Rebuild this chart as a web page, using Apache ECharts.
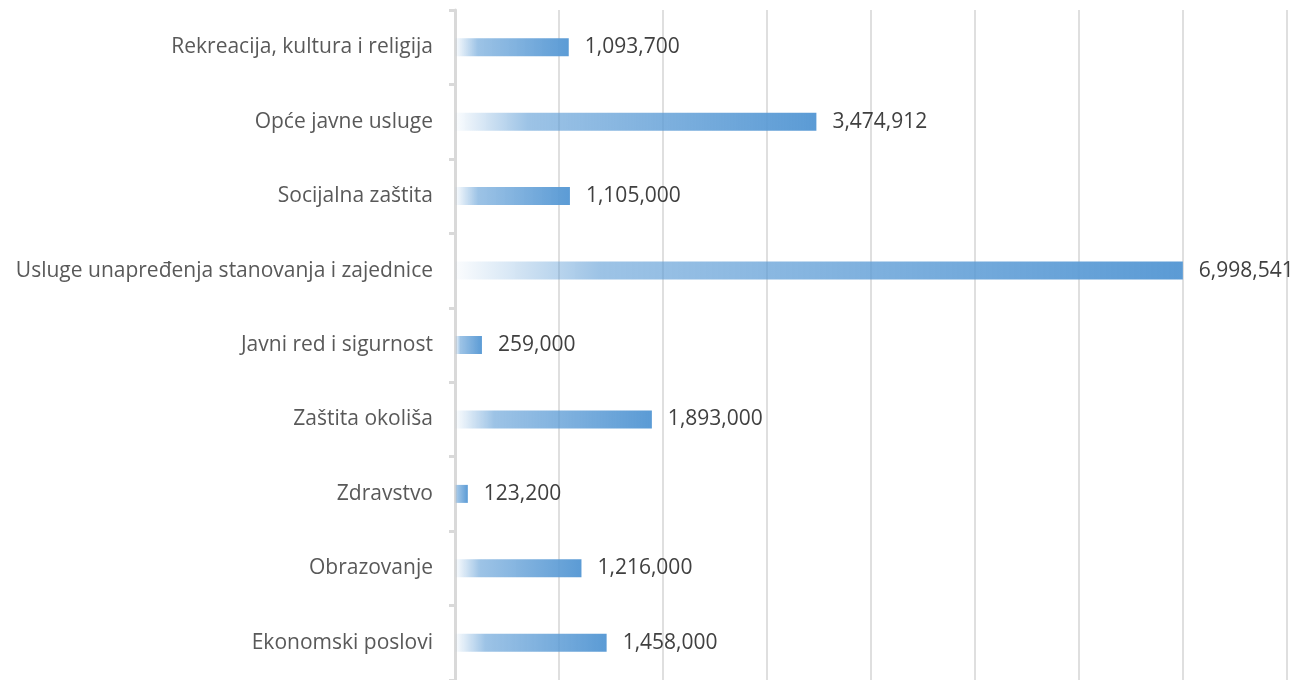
<!DOCTYPE html>
<html>
<head>
<meta charset="utf-8">
<script src="https://cdn.jsdelivr.net/npm/echarts@6/dist/echarts.min.js"></script>
<style>
  html, body { margin: 0; padding: 0; background: #fff; }
  #chart { width: 1301px; height: 680px; }
</style>
</head>
<body>
<div id="chart"></div>
<script>
  // kategorije odozdo prema gore
  const categories = [
    'Ekonomski poslovi',
    'Obrazovanje',
    'Zdravstvo',
    'Zaštita okoliša',
    'Javni red i sigurnost',
    'Usluge unapređenja stanovanja i zajednice',
    'Socijalna zaštita',
    'Opće javne usluge',
    'Rekreacija, kultura i religija'
  ];
  const values = [1458000, 1216000, 123200, 1893000, 259000, 6998541, 1105000, 3474912, 1093700];
  const axisMin = 0;
  const axisMax = 8000000;
  const axisStep = 1000000;

  const chart = echarts.init(document.getElementById('chart'));
  const gray = '#d9d9d9';

  chart.setOption({
    animation: false,
    grid: { left: 455, right: 14, top: 10, bottom: 0, containLabel: false },
    xAxis: {
      type: 'value',
      min: axisMin,
      max: axisMax,
      interval: axisStep,
      axisLine: { show: false },
      axisTick: { show: false },
      axisLabel: { show: false },
      splitLine: { lineStyle: { color: '#d4d4d4', width: 1.5 } }
    },
    yAxis: {
      type: 'category',
      data: categories,
      axisLine: { show: true, lineStyle: { color: gray, width: 3 } },
      axisTick: { show: true, alignWithLabel: false, length: 6, lineStyle: { color: gray, width: 3 } },
      axisLabel: {
        margin: 22,
        color: '#595959',
        fontSize: 21,
        fontFamily: 'Open Sans'
      }
    },
    series: [{
      type: 'bar',
      data: values,
      barWidth: 18,
      itemStyle: {
        color: new echarts.graphic.LinearGradient(0, 0, 1, 0, [
          { offset: 0, color: 'rgba(91,155,213,0.02)' },
          { offset: 0.2, color: 'rgba(91,155,213,0.6)' },
          { offset: 1, color: 'rgba(91,155,213,1)' }
        ])
      },
      label: {
        show: true,
        position: 'right',
        distance: 16,
        color: '#404040',
        fontSize: 21,
        fontFamily: 'Open Sans',
        formatter: p => p.value.toLocaleString('en-US')
      }
    }]
  });
</script>
</body>
</html>
